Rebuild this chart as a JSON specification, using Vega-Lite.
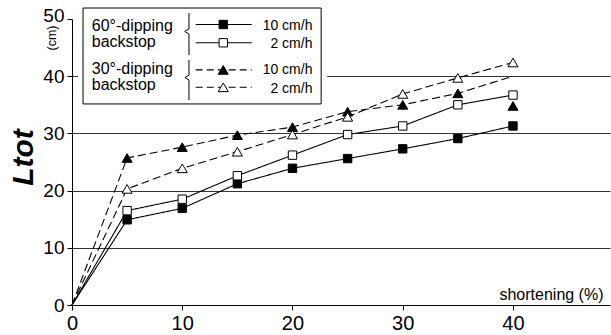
{
  "$schema": "https://vega.github.io/schema/vega-lite/v6.json",
  "width": 538,
  "height": 286,
  "autosize": {"type": "none"},
  "padding": {"left": 72, "top": 19, "right": 1, "bottom": 30},
  "background": "white",
  "config": {"view": {"stroke": null}, "font": "Liberation Sans"},
  "datasets": {
    "curves": [
      {"backstop": "60°", "rate": "10 cm/h", "x": 0, "y": 0},
      {"backstop": "60°", "rate": "10 cm/h", "x": 5, "y": 14.9},
      {"backstop": "60°", "rate": "10 cm/h", "x": 10, "y": 16.9},
      {"backstop": "60°", "rate": "10 cm/h", "x": 15, "y": 21.2},
      {"backstop": "60°", "rate": "10 cm/h", "x": 20, "y": 23.9},
      {"backstop": "60°", "rate": "10 cm/h", "x": 25, "y": 25.6},
      {"backstop": "60°", "rate": "10 cm/h", "x": 30, "y": 27.3},
      {"backstop": "60°", "rate": "10 cm/h", "x": 35, "y": 29.1},
      {"backstop": "60°", "rate": "10 cm/h", "x": 40, "y": 31.3},
      {"backstop": "60°", "rate": "2 cm/h", "x": 0, "y": 0},
      {"backstop": "60°", "rate": "2 cm/h", "x": 5, "y": 16.5},
      {"backstop": "60°", "rate": "2 cm/h", "x": 10, "y": 18.5},
      {"backstop": "60°", "rate": "2 cm/h", "x": 15, "y": 22.6},
      {"backstop": "60°", "rate": "2 cm/h", "x": 20, "y": 26.2},
      {"backstop": "60°", "rate": "2 cm/h", "x": 25, "y": 29.8},
      {"backstop": "60°", "rate": "2 cm/h", "x": 30, "y": 31.3},
      {"backstop": "60°", "rate": "2 cm/h", "x": 35, "y": 35.0},
      {"backstop": "60°", "rate": "2 cm/h", "x": 40, "y": 36.7},
      {"backstop": "30°", "rate": "10 cm/h", "x": 0, "y": 0},
      {"backstop": "30°", "rate": "10 cm/h", "x": 5, "y": 25.7},
      {"backstop": "30°", "rate": "10 cm/h", "x": 10, "y": 27.6},
      {"backstop": "30°", "rate": "10 cm/h", "x": 15, "y": 29.7},
      {"backstop": "30°", "rate": "10 cm/h", "x": 20, "y": 31.1},
      {"backstop": "30°", "rate": "10 cm/h", "x": 25, "y": 33.8},
      {"backstop": "30°", "rate": "10 cm/h", "x": 30, "y": 35.0},
      {"backstop": "30°", "rate": "10 cm/h", "x": 35, "y": 37.0},
      {"backstop": "30°", "rate": "10 cm/h", "x": 40, "y": 40.0},
      {"backstop": "30°", "rate": "2 cm/h", "x": 0, "y": 0},
      {"backstop": "30°", "rate": "2 cm/h", "x": 5, "y": 20.3},
      {"backstop": "30°", "rate": "2 cm/h", "x": 10, "y": 23.9},
      {"backstop": "30°", "rate": "2 cm/h", "x": 15, "y": 26.8},
      {"backstop": "30°", "rate": "2 cm/h", "x": 20, "y": 29.8},
      {"backstop": "30°", "rate": "2 cm/h", "x": 25, "y": 32.9},
      {"backstop": "30°", "rate": "2 cm/h", "x": 30, "y": 36.9},
      {"backstop": "30°", "rate": "2 cm/h", "x": 35, "y": 39.7},
      {"backstop": "30°", "rate": "2 cm/h", "x": 40, "y": 42.4}
    ],
    "measured": [
      {"backstop": "60°", "rate": "10 cm/h", "x": 5, "y": 14.9},
      {"backstop": "60°", "rate": "10 cm/h", "x": 10, "y": 16.9},
      {"backstop": "60°", "rate": "10 cm/h", "x": 15, "y": 21.2},
      {"backstop": "60°", "rate": "10 cm/h", "x": 20, "y": 23.9},
      {"backstop": "60°", "rate": "10 cm/h", "x": 25, "y": 25.6},
      {"backstop": "60°", "rate": "10 cm/h", "x": 30, "y": 27.3},
      {"backstop": "60°", "rate": "10 cm/h", "x": 35, "y": 29.1},
      {"backstop": "60°", "rate": "10 cm/h", "x": 40, "y": 31.3},
      {"backstop": "60°", "rate": "2 cm/h", "x": 5, "y": 16.5},
      {"backstop": "60°", "rate": "2 cm/h", "x": 10, "y": 18.5},
      {"backstop": "60°", "rate": "2 cm/h", "x": 15, "y": 22.6},
      {"backstop": "60°", "rate": "2 cm/h", "x": 20, "y": 26.2},
      {"backstop": "60°", "rate": "2 cm/h", "x": 25, "y": 29.8},
      {"backstop": "60°", "rate": "2 cm/h", "x": 30, "y": 31.3},
      {"backstop": "60°", "rate": "2 cm/h", "x": 35, "y": 35.0},
      {"backstop": "60°", "rate": "2 cm/h", "x": 40, "y": 36.7},
      {"backstop": "30°", "rate": "10 cm/h", "x": 5, "y": 25.7},
      {"backstop": "30°", "rate": "10 cm/h", "x": 10, "y": 27.6},
      {"backstop": "30°", "rate": "10 cm/h", "x": 15, "y": 29.7},
      {"backstop": "30°", "rate": "10 cm/h", "x": 20, "y": 31.1},
      {"backstop": "30°", "rate": "10 cm/h", "x": 25, "y": 33.8},
      {"backstop": "30°", "rate": "10 cm/h", "x": 30, "y": 35.0},
      {"backstop": "30°", "rate": "10 cm/h", "x": 35, "y": 37.0},
      {"backstop": "30°", "rate": "10 cm/h", "x": 40, "y": 34.8},
      {"backstop": "30°", "rate": "2 cm/h", "x": 5, "y": 20.3},
      {"backstop": "30°", "rate": "2 cm/h", "x": 10, "y": 23.9},
      {"backstop": "30°", "rate": "2 cm/h", "x": 15, "y": 26.8},
      {"backstop": "30°", "rate": "2 cm/h", "x": 20, "y": 29.8},
      {"backstop": "30°", "rate": "2 cm/h", "x": 25, "y": 32.9},
      {"backstop": "30°", "rate": "2 cm/h", "x": 30, "y": 36.9},
      {"backstop": "30°", "rate": "2 cm/h", "x": 35, "y": 39.7},
      {"backstop": "30°", "rate": "2 cm/h", "x": 40, "y": 42.4}
    ]
  },
  "layer": [
    {
      "data": {"name": "curves"},
      "mark": {"type": "line", "color": "black", "strokeWidth": 1.1, "clip": false},
      "encoding": {
        "x": {
          "field": "x", "type": "quantitative",
          "scale": {"domain": [0, 48.8], "nice": false, "zero": false},
          "axis": {
            "values": [0, 10, 20, 30, 40],
            "grid": false,
            "tickSize": 5,
            "tickColor": "black",
            "domainColor": "black",
            "labelColor": "black",
            "labelFontSize": 20,
            "labelPadding": 3,
            "labelFlush": false,
            "labelOverlap": false,
            "title": "shortening (%)",
            "titleFontSize": 16,
            "titleFontWeight": "normal",
            "titleColor": "black",
            "titleAlign": "right",
            "titleBaseline": "alphabetic",
            "titleX": 531,
            "titleY": -6
          }
        },
        "y": {
          "field": "y", "type": "quantitative",
          "scale": {"domain": [0, 50], "nice": false},
          "axis": {
            "values": [0, 5, 10, 15, 20, 25, 30, 35, 40, 45, 50],
            "labelExpr": "datum.value % 10 === 0 ? datum.label : ''",
            "labelOverlap": false,
            "labelOffset": {"condition": {"test": "datum.value === 50", "value": -4}, "value": 0},
            "grid": true,
            "gridColor": "#333333",
            "gridWidth": 1,
            "gridOpacity": {"condition": {"test": "datum.value % 10 === 0 && datum.value > 0 && datum.value < 50", "value": 1}, "value": 0},
            "tickSize": {"condition": {"test": "datum.value % 10 === 0", "value": 5}, "value": 4},
            "tickColor": "black",
            "domainColor": "black",
            "labelColor": "black",
            "labelFontSize": 19,
            "labelPadding": 3,
            "title": "Ltot",
            "titleFontSize": 30,
            "titleFontStyle": "italic",
            "titleFontWeight": "bold",
            "titleColor": "black",
            "titleAngle": 270,
            "titleAlign": "center",
            "titleBaseline": "alphabetic",
            "titleX": -40,
            "titleY": 138
          }
        },
        "detail": {"field": "rate"},
        "strokeDash": {
          "field": "backstop", "type": "nominal",
          "scale": {"domain": ["60°", "30°"], "range": [[1, 0], [8, 4]]},
          "legend": null
        },
        "order": {"field": "x", "type": "quantitative"}
      }
    },
    {
      "data": {"name": "measured"},
      "mark": {"type": "point", "stroke": "black", "strokeWidth": 1, "opacity": 1, "filled": false},
      "encoding": {
        "x": {"field": "x", "type": "quantitative"},
        "y": {"field": "y", "type": "quantitative"},
        "shape": {
          "field": "backstop", "type": "nominal",
          "scale": {"domain": ["60°", "30°"], "range": ["square", "triangle-up"]},
          "legend": null
        },
        "size": {
          "field": "backstop", "type": "ordinal",
          "scale": {"domain": ["60°", "30°"], "range": [70, 100]},
          "legend": null
        },
        "fill": {
          "field": "rate", "type": "nominal",
          "scale": {"domain": ["10 cm/h", "2 cm/h"], "range": ["black", "white"]},
          "legend": null
        }
      }
    },
    {
      "data": {"values": [{}]},
      "mark": {"type": "rect", "fill": "white", "stroke": null},
      "encoding": {
        "x": {"datum": 0.54, "type": "quantitative"},
        "x2": {"datum": 23.13},
        "y": {"datum": 52.3, "type": "quantitative"},
        "y2": {"datum": 34.8}
      }
    },
    {
      "data": {"values": [{}]},
      "mark": {"type": "rect", "fill": "white", "stroke": "black", "strokeWidth": 1},
      "encoding": {
        "x": {"datum": 1.0, "type": "quantitative"},
        "x2": {"datum": 22.6},
        "y": {"datum": 51.92, "type": "quantitative"},
        "y2": {"datum": 35.15}
      }
    },
    {
      "data": {"values": [{}]},
      "mark": {"type": "text", "text": ["60°-dipping", "backstop"], "lineHeight": 16, "fontSize": 16, "align": "left", "baseline": "alphabetic", "color": "black"},
      "encoding": {
        "x": {"datum": 1.79, "type": "quantitative"},
        "y": {"datum": 47.95, "type": "quantitative"}
      }
    },
    {
      "data": {"values": [{}]},
      "mark": {"type": "text", "text": ["30°-dipping", "backstop"], "lineHeight": 16, "fontSize": 16, "align": "left", "baseline": "alphabetic", "color": "black"},
      "encoding": {
        "x": {"datum": 1.79, "type": "quantitative"},
        "y": {"datum": 40.38, "type": "quantitative"}
      }
    },
    {
      "data": {"values": [{}]},
      "mark": {"type": "point", "shape": "M0,-1L0,-0.24L-0.2,-0.12L0,0L0,1", "size": 1764, "filled": false, "stroke": "black", "strokeWidth": 1, "opacity": 1},
      "encoding": {
        "x": {"datum": 10.61, "type": "quantitative"},
        "y": {"datum": 47.38, "type": "quantitative"}
      }
    },
    {
      "data": {"values": [{}]},
      "mark": {"type": "point", "shape": "M0,-1L0,-0.24L-0.2,-0.12L0,0L0,1", "size": 1600, "filled": false, "stroke": "black", "strokeWidth": 1, "opacity": 1},
      "encoding": {
        "x": {"datum": 10.61, "type": "quantitative"},
        "y": {"datum": 39.34, "type": "quantitative"}
      }
    },
    {
      "data": {"values": [{}]},
      "mark": {"type": "rule", "color": "black", "strokeWidth": 1.1},
      "encoding": {
        "x": {"datum": 11.22, "type": "quantitative"},
        "x2": {"datum": 16.3},
        "y": {"datum": 49.04, "type": "quantitative"}
      }
    },
    {
      "data": {"values": [{}]},
      "mark": {"type": "rule", "color": "black", "strokeWidth": 1.1},
      "encoding": {
        "x": {"datum": 11.22, "type": "quantitative"},
        "x2": {"datum": 16.3},
        "y": {"datum": 45.84, "type": "quantitative"}
      }
    },
    {
      "data": {"values": [{}]},
      "mark": {"type": "rule", "color": "black", "strokeWidth": 1.1, "strokeDash": [7, 4]},
      "encoding": {
        "x": {"datum": 11.22, "type": "quantitative"},
        "x2": {"datum": 16.3},
        "y": {"datum": 41.1, "type": "quantitative"}
      }
    },
    {
      "data": {"values": [{}]},
      "mark": {"type": "rule", "color": "black", "strokeWidth": 1.1, "strokeDash": [7, 4]},
      "encoding": {
        "x": {"datum": 11.22, "type": "quantitative"},
        "x2": {"datum": 16.3},
        "y": {"datum": 38.06, "type": "quantitative"}
      }
    },
    {
      "data": {"values": [{}]},
      "mark": {"type": "point", "shape": "square", "size": 70, "fill": "black", "stroke": "black", "strokeWidth": 1, "opacity": 1},
      "encoding": {
        "x": {"datum": 13.72, "type": "quantitative"},
        "y": {"datum": 49.04, "type": "quantitative"}
      }
    },
    {
      "data": {"values": [{}]},
      "mark": {"type": "point", "shape": "square", "size": 70, "fill": "white", "stroke": "black", "strokeWidth": 1, "opacity": 1},
      "encoding": {
        "x": {"datum": 13.72, "type": "quantitative"},
        "y": {"datum": 45.84, "type": "quantitative"}
      }
    },
    {
      "data": {"values": [{}]},
      "mark": {"type": "point", "shape": "triangle-up", "size": 100, "fill": "black", "stroke": "black", "strokeWidth": 1, "opacity": 1},
      "encoding": {
        "x": {"datum": 13.72, "type": "quantitative"},
        "y": {"datum": 41.1, "type": "quantitative"}
      }
    },
    {
      "data": {"values": [{}]},
      "mark": {"type": "point", "shape": "triangle-up", "size": 100, "fill": "white", "stroke": "black", "strokeWidth": 1, "opacity": 1},
      "encoding": {
        "x": {"datum": 13.72, "type": "quantitative"},
        "y": {"datum": 38.06, "type": "quantitative"}
      }
    },
    {
      "data": {"values": [{}]},
      "mark": {"type": "text", "text": ["10 cm/h", "2 cm/h"], "lineHeight": 18.3, "fontSize": 14, "align": "right", "baseline": "alphabetic", "color": "black"},
      "encoding": {
        "x": {"datum": 21.81, "type": "quantitative"},
        "y": {"datum": 48.08, "type": "quantitative"}
      }
    },
    {
      "data": {"values": [{}]},
      "mark": {"type": "text", "text": ["10 cm/h", "2 cm/h"], "lineHeight": 18.5, "fontSize": 14, "align": "right", "baseline": "alphabetic", "color": "black"},
      "encoding": {
        "x": {"datum": 21.81, "type": "quantitative"},
        "y": {"datum": 40.38, "type": "quantitative"}
      }
    },
    {
      "data": {"values": [{}]},
      "mark": {"type": "text", "text": "(cm)", "fontSize": 12.5, "angle": 270, "align": "center", "baseline": "middle", "color": "black"},
      "encoding": {
        "x": {"datum": -1.77, "type": "quantitative"},
        "y": {"datum": 46.68, "type": "quantitative"}
      }
    }
  ]
}
